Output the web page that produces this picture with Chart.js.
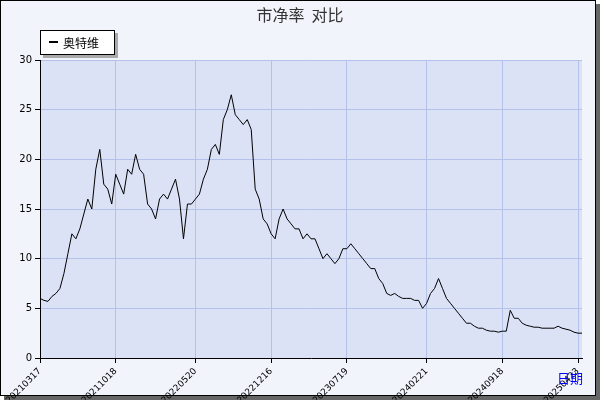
<!DOCTYPE html>
<html>
<head>
<meta charset="utf-8">
<script src="https://cdn.jsdelivr.net/npm/chart.js"></script>
<style>
body { margin: 0; background: #fff; }
#wrap { width: 600px; height: 400px; }
</style>
</head>
<body>
<div id="wrap"><canvas id="c" width="600" height="400"></canvas></div>
<script>
// 市净率 values, one point every ~4px along the time axis
var values = [6, 5.8, 5.7, 6.2, 6.5, 7, 8.5, 10.5, 12.5, 12, 13, 14.5, 16, 15, 19, 21, 17.5, 17, 15.5, 18.5,
  17.5, 16.5, 19, 18.5, 20.5, 19, 18.5, 15.5, 15, 14, 16, 16.5, 16, 17, 18, 16, 12, 15.5, 15.5, 16,
  16.5, 18, 19, 21, 21.5, 20.5, 24, 25, 26.5, 24.5, 24, 23.5, 24, 23, 17, 16, 14, 13.5, 12.5, 12,
  14, 15, 14, 13.5, 13, 13, 12, 12.5, 12, 12, 11, 10, 10.5, 10, 9.5, 10, 11, 11, 11.5, 11,
  10.5, 10, 9.5, 9, 9, 8, 7.5, 6.5, 6.3, 6.5, 6.2, 6, 6, 6, 5.8, 5.8, 5, 5.5, 6.5, 7,
  8, 7, 6, 5.5, 5, 4.5, 4, 3.5, 3.5, 3.2, 3, 3, 2.8, 2.7, 2.7, 2.6, 2.7, 2.7, 4.8, 4,
  4, 3.5, 3.3, 3.2, 3.1, 3.1, 3, 3, 3, 3, 3.2, 3, 2.9, 2.8, 2.6, 2.5, 2.5];
var tickIdx = [0, 19, 39, 58, 77, 97, 116, 135];
var tickLabels = ['20210317', '20211018', '20220520', '20221216', '20230719', '20240221', '20240918', '20250423'];
var seriesName = '奥特维';

var points = values.map(function (v, i) { return { x: i, y: v }; });

var frame = {
  id: 'frame',
  beforeDraw: function (chart) {
    var c = chart.ctx, a = chart.chartArea;
    c.save();
    c.fillStyle = '#666';
    c.fillRect(4, 4, 596, 396);
    c.fillStyle = '#f2f4fc';
    c.fillRect(0, 0, 596, 396);
    c.strokeStyle = '#000';
    c.lineWidth = 1;
    c.strokeRect(0.5, 0.5, 595, 395);
    c.fillStyle = '#dce2f6';
    c.fillRect(a.left, a.top, a.right - a.left, a.bottom - a.top);
    c.restore();
  },
  afterDraw: function (chart) {
    var c = chart.ctx;
    c.save();
    c.fillStyle = '#333';
    c.font = '16px "Noto Sans CJK SC"';
    c.textAlign = 'center';
    c.textBaseline = 'middle';
    c.fillText('市净率  对比', 300, 15);
    // legend box
    c.fillStyle = '#aaa';
    c.fillRect(43, 33, 75, 25);
    c.fillStyle = '#fff';
    c.fillRect(40, 30, 75, 25);
    c.strokeStyle = '#000';
    c.strokeRect(40.5, 30.5, 74, 24);
    c.fillStyle = '#000';
    c.fillRect(49, 41, 9, 2);
    c.font = '12px "Noto Sans CJK SC"';
    c.textAlign = 'left';
    c.fillText(seriesName, 63, 43);
    c.fillStyle = '#00f';
    c.font = '13px "Noto Sans CJK SC"';
    c.fillText('日期', 557, 378);
    c.restore();
  }
};

new Chart(document.getElementById('c'), {
  type: 'line',
  data: { datasets: [{ data: points, borderColor: '#000', borderWidth: 1, pointRadius: 0, tension: 0 }] },
  options: {
    responsive: false,
    animation: false,
    layout: { padding: { top: 60, right: 18, left: 0, bottom: 0 } },
    plugins: { legend: { display: false }, tooltip: { enabled: false } },
    scales: {
      x: {
        type: 'linear', min: 0, max: 136,
        afterBuildTicks: function (s) { s.ticks = tickIdx.map(function (v) { return { value: v }; }); },
        afterFit: function (s) { s.height = 42; },
        ticks: {
          autoSkip: false, minRotation: 45, maxRotation: 45, color: '#000',
          font: { size: 9, family: 'DejaVu Sans' },
          callback: function (v) { return tickLabels[tickIdx.indexOf(v)]; }
        },
        grid: { color: '#b4c2ea', tickColor: '#000', tickLength: 5 },
        border: { color: '#000' }
      },
      y: {
        min: 0, max: 30,
        afterFit: function (s) { s.width = 40; },
        ticks: { stepSize: 5, color: '#000', font: { size: 10, family: 'DejaVu Sans' } },
        grid: { color: '#b4c2ea', tickColor: '#000', tickLength: 5 },
        border: { color: '#000' }
      }
    }
  },
  plugins: [frame]
});
</script>
</body>
</html>
